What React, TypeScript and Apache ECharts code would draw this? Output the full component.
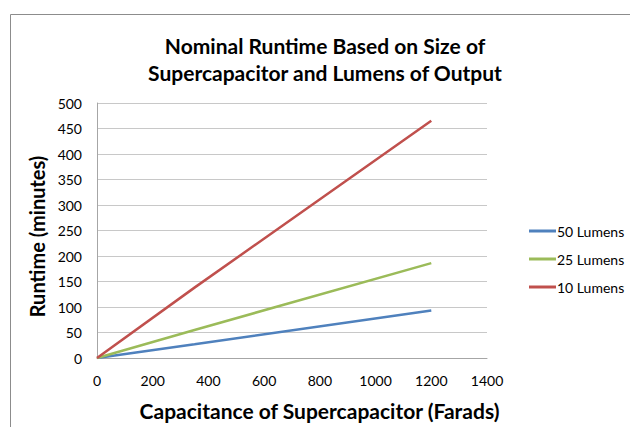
import React, { useEffect, useRef } from "react";
import * as echarts from "echarts";

const capacitance = [0, 350, 1200];
const lumens50 = [0, 27, 93];
const lumens25 = [0, 55, 186];
const lumens10 = [0, 138, 465];
const seriesNames = ["50 Lumens", "25 Lumens", "10 Lumens"];
const seriesColors = ["#4f81bd", "#9bbb59", "#c0504d"];
const titleLines = ["Nominal Runtime Based on Size of", "Supercapacitor and Lumens of Output"];
const xName = "Capacitance of Supercapacitor (Farads)";
const yName = "Runtime (minutes)";

const FONT = "Lato, 'Open Sans', sans-serif";

export default function App() {
  const ref = useRef<HTMLDivElement>(null);
  useEffect(() => {
    if (!ref.current) return;
    const chart = echarts.init(ref.current, undefined, { renderer: "svg" });
    const values = [lumens50, lumens25, lumens10];
    chart.setOption({
      animation: false,
      backgroundColor: "#ffffff",
      textStyle: { fontFamily: FONT },
      graphic: [
        {
          type: "rect",
          shape: { x: 10.5, y: 14.5, width: 700, height: 500 },
          style: { fill: "none", stroke: "#8c8c8c", lineWidth: 1 },
          silent: true,
        },
      ],
      title: {
        text: titleLines.join("\n"),
        left: 320,
        textAlign: "center",
        top: 27,
        textStyle: {
          fontFamily: FONT,
          fontSize: 21,
          fontWeight: "bold",
          color: "#000",
          lineHeight: 27,
        },
      },
      legend: {
        orient: "vertical",
        left: 524,
        top: 218,
        itemWidth: 27,
        itemHeight: 3,
        itemGap: 12,
        icon: "rect",
        textStyle: { fontFamily: FONT, fontSize: 14, lineHeight: 16, color: "#000", padding: [0, 0, 0, -4] },
        data: seriesNames,
      },
      grid: { left: 97, right: 143, top: 103, bottom: 69, containLabel: false },
      xAxis: {
        type: "value",
        min: 0,
        max: 1400,
        interval: 200,
        name: xName,
        nameLocation: "middle",
        nameGap: 42,
        nameTextStyle: {
          fontFamily: FONT,
          fontSize: 21,
          fontWeight: "bold",
          color: "#000",
          padding: [0, 0, 0, 55],
        },
        axisLine: { show: true, lineStyle: { color: "#a6a6a6" } },
        axisTick: { show: false },
        splitLine: { show: false },
        axisLabel: { fontFamily: FONT, fontSize: 14, color: "#000", margin: 15, formatter: (v: number) => String(v) },
      },
      yAxis: {
        type: "value",
        min: 0,
        max: 500,
        interval: 50,
        name: yName,
        nameLocation: "middle",
        nameGap: 40,
        nameTextStyle: {
          fontFamily: FONT,
          fontSize: 20,
          fontWeight: "bold",
          color: "#000",
          padding: [0, 12, 0, 0],
        },
        axisLine: { show: true, lineStyle: { color: "#a6a6a6" } },
        axisTick: { show: false },
        splitLine: { show: true, lineStyle: { color: "#c8c8c8" } },
        axisLabel: { fontFamily: FONT, fontSize: 14, color: "#000", margin: 15, formatter: (v: number) => String(v) },
      },
      series: seriesNames.map((name, i) => ({
        name,
        type: "line",
        data: capacitance.map((c, j) => [c, values[i][j]]),
        showSymbol: false,
        symbol: "none",
        lineStyle: { color: seriesColors[i], width: 2.5 },
        itemStyle: { color: seriesColors[i] },
      })),
    });
    return () => chart.dispose();
  }, []);
  return (
    <div
      ref={ref}
      style={{ position: "absolute", left: 0, top: 0, width: 630, height: 427 }}
    />
  );
}
